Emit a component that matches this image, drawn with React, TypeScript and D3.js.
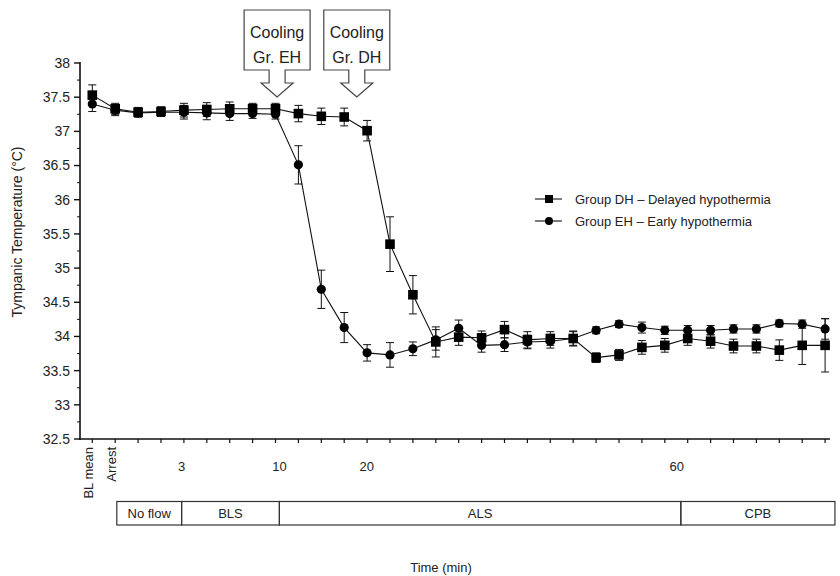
import React from "react";
import * as d3 from "d3";

// ---- data ----
const timeIndex = d3.range(33);
const dhMean = [37.53, 37.33, 37.28, 37.29, 37.31, 37.32, 37.33, 37.33, 37.33, 37.26, 37.22, 37.21, 37.01, 35.35, 34.61, 33.92, 33.99, 33.98, 34.10, 33.95, 33.97, 33.97, 33.69, 33.73, 33.84, 33.87, 33.97, 33.93, 33.86, 33.86, 33.80, 33.87, 33.87];
const dhErr = [0.15, 0.08, 0.07, 0.07, 0.1, 0.1, 0.1, 0.08, 0.08, 0.12, 0.12, 0.13, 0.15, 0.4, 0.28, 0.22, 0.12, 0.1, 0.12, 0.12, 0.1, 0.11, 0.07, 0.08, 0.1, 0.1, 0.1, 0.1, 0.1, 0.1, 0.15, 0.28, 0.39];
const ehMean = [37.40, 37.31, 37.27, 37.28, 37.28, 37.27, 37.26, 37.26, 37.25, 36.51, 34.69, 34.13, 33.76, 33.73, 33.82, 33.95, 34.12, 33.87, 33.88, 33.92, 33.93, 33.97, 34.09, 34.18, 34.13, 34.09, 34.09, 34.09, 34.11, 34.11, 34.19, 34.18, 34.11];
const ehErr = [0.11, 0.08, 0.06, 0.06, 0.1, 0.1, 0.1, 0.07, 0.07, 0.28, 0.28, 0.22, 0.12, 0.18, 0.1, 0.15, 0.12, 0.1, 0.1, 0.1, 0.1, 0.1, 0.05, 0.05, 0.08, 0.06, 0.07, 0.07, 0.06, 0.06, 0.05, 0.06, 0.15];

const yTicks = [32.5, 33, 33.5, 34, 34.5, 35, 35.5, 36, 36.5, 37, 37.5, 38];
const rotatedLabels = [{ text: "BL mean", at: 0 }, { text: "Arrest", at: 1 }];
const timeLabels = [{ text: "3", at: 3.9 }, { text: "10", at: 8.17 }, { text: "20", at: 11.98 }, { text: "60", at: 25.52 }];
const phases = [
  { name: "No flow", from: 1.07, to: 3.9 },
  { name: "BLS", from: 3.9, to: 8.17 },
  { name: "ALS", from: 8.17, to: 25.7 },
  { name: "CPB", from: 25.7, to: 32.43 },
];
const callouts = [
  { lines: ["Cooling", "Gr. EH"], at: 8.07 },
  { lines: ["Cooling", "Gr. DH"], at: 11.55 },
];
const seriesNames = ["Group DH \u2013 Delayed hypothermia", "Group EH \u2013 Early hypothermia"];

const FONT = "'Liberation Sans', Arial, Helvetica, sans-serif";
const TXT = "#222";

export default function App() {
  const x = d3.scaleLinear().domain([0, 32]).range([92.3, 825.1]);
  const y = d3.scaleLinear().domain([32.5, 38]).range([439, 63]);
  const line = d3.line<number>().x((_, i) => x(i)).y((v) => y(v));
  const minor = d3.range(32.75, 38, 0.5);

  const errBars = (means: number[], errs: number[], key: string) =>
    means.map((m, i) => {
      const cx = x(i);
      const y1 = y(m + errs[i]);
      const y2 = y(m - errs[i]);
      return (
        <g key={key + i} stroke="#111" strokeWidth={1}>
          <line x1={cx} x2={cx} y1={y1} y2={y2} />
          <line x1={cx - 4} x2={cx + 4} y1={y1} y2={y1} />
          <line x1={cx - 4} x2={cx + 4} y1={y2} y2={y2} />
        </g>
      );
    });

  const calloutPath = (cx: number) => {
    const L = cx - 33, R = cx + 33, T = 10, B = 70;
    return `M${L},${T}H${R}V${B}H${cx + 8}V${B + 13}H${cx + 16}L${cx},${B + 27}L${cx - 16},${B + 13}H${cx - 8}V${B}H${L}Z`;
  };

  return (
    <svg width={840} height={576} style={{ position: "fixed", left: 0, top: 0, background: "#fff" }} fontFamily={FONT}>
      <rect width={840} height={576} fill="#fff" />
      {/* y axis */}
      <line x1={80} x2={80} y1={62} y2={440} stroke="#111" strokeWidth={1.6} />
      {yTicks.map((t) => (
        <g key={"yt" + t}>
          <line x1={74} x2={80} y1={y(t)} y2={y(t)} stroke="#111" strokeWidth={1.4} />
          <text x={70} y={y(t)} dy="0.35em" textAnchor="end" fontSize={14} fill={TXT}>{t}</text>
        </g>
      ))}
      {minor.map((t) => (
        <line key={"ym" + t} x1={77} x2={80} y1={y(t)} y2={y(t)} stroke="#111" strokeWidth={1} />
      ))}
      <text transform={`translate(22,232) rotate(-90)`} textAnchor="middle" fontSize={14} fill={TXT}>Tympanic Temperature (°C)</text>

      {/* x axis */}
      <line x1={79} x2={830} y1={439} y2={439} stroke="#111" strokeWidth={1.6} />
      {timeIndex.map((i) => (
        <line key={"xt" + i} x1={x(i)} x2={x(i)} y1={439} y2={443} stroke="#111" strokeWidth={1.2} />
      ))}
      {rotatedLabels.map((l) => (
        <text key={l.text} transform={`translate(${x(l.at) - 4},447) rotate(-90)`} textAnchor="end" dy="0.35em" fontSize={13} fill={TXT}>{l.text}</text>
      ))}
      {timeLabels.map((l) => (
        <text key={l.text} x={x(l.at)} y={471} textAnchor="middle" fontSize={13} fill={TXT}>{l.text}</text>
      ))}

      {/* phases */}
      {phases.map((p) => (
        <g key={p.name}>
          <rect x={x(p.from)} y={501.5} width={x(p.to) - x(p.from)} height={23.5} fill="none" stroke="#333" strokeWidth={1.2} />
          <text x={(x(p.from) + x(p.to)) / 2} y={518} textAnchor="middle" fontSize={13} fill={TXT}>{p.name}</text>
        </g>
      ))}
      <text x={441} y={572} textAnchor="middle" fontSize={13} fill={TXT}>Time (min)</text>

      {/* callouts */}
      {callouts.map((c) => (
        <g key={c.lines[1]}>
          <path d={calloutPath(x(c.at))} fill="#fff" stroke="#444" strokeWidth={1.2} />
          <text x={x(c.at)} y={38} textAnchor="middle" fontSize={16} fill={TXT}>{c.lines[0]}</text>
          <text x={x(c.at)} y={63} textAnchor="middle" fontSize={16} fill={TXT}>{c.lines[1]}</text>
        </g>
      ))}

      {/* series lines */}
      <path d={line(ehMean) || ""} fill="none" stroke="#111" strokeWidth={1.1} />
      <path d={line(dhMean) || ""} fill="none" stroke="#111" strokeWidth={1.1} />
      {errBars(ehMean, ehErr, "eh")}
      {errBars(dhMean, dhErr, "dh")}
      {ehMean.map((m, i) => (
        <circle key={"ec" + i} cx={x(i)} cy={y(m)} r={4.6} fill="#000" />
      ))}
      {dhMean.map((m, i) => (
        <rect key={"dr" + i} x={x(i) - 4.8} y={y(m) - 4.8} width={9.6} height={9.6} fill="#000" />
      ))}

      {/* legend */}
      <line x1={535} x2={562} y1={199} y2={199} stroke="#111" strokeWidth={1.1} />
      <rect x={549 - 4} y={199 - 4} width={8} height={8} fill="#000" />
      <text x={575} y={204} fontSize={13} fill={TXT}>{seriesNames[0]}</text>
      <line x1={535} x2={562} y1={221} y2={221} stroke="#111" strokeWidth={1.1} />
      <circle cx={549} cy={221} r={4} fill="#000" />
      <text x={575} y={226} fontSize={13} fill={TXT}>{seriesNames[1]}</text>
    </svg>
  );
}
